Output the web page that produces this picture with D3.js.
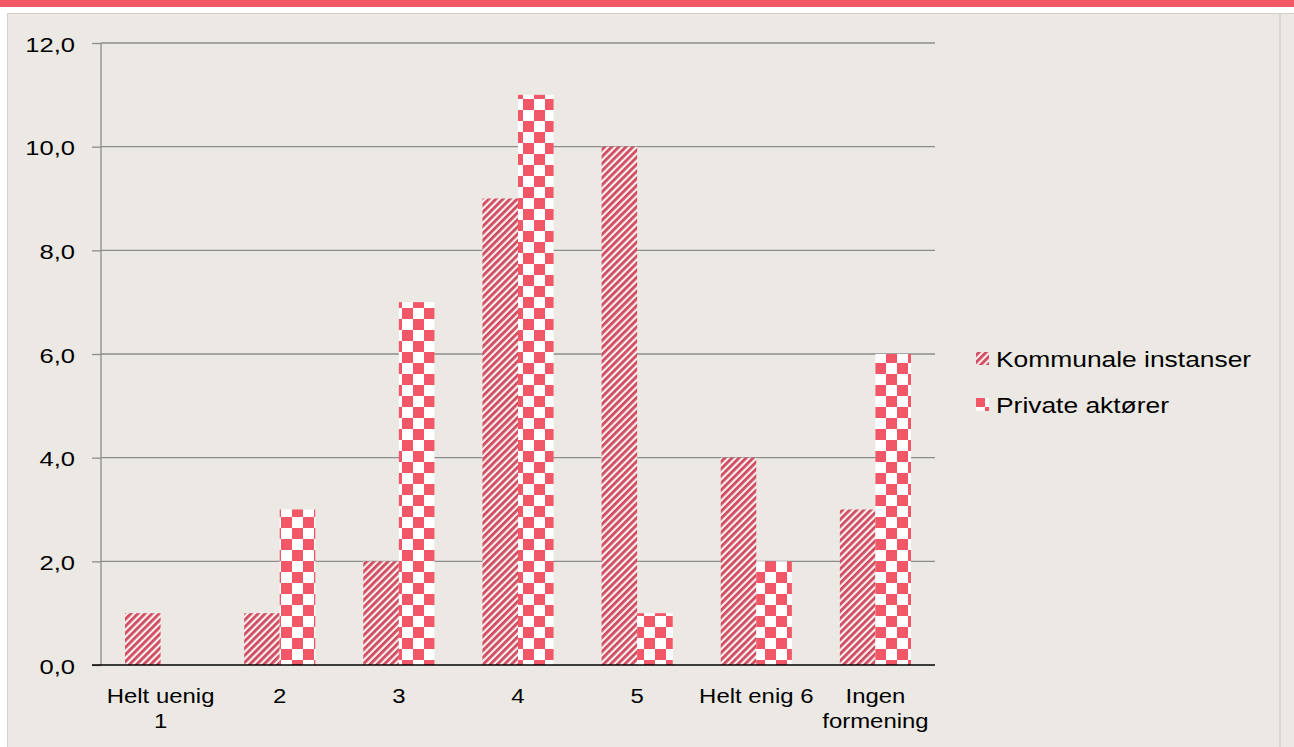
<!DOCTYPE html>
<html>
<head>
<meta charset="utf-8">
<script src="https://cdn.jsdelivr.net/npm/d3@7"></script>
<style>
  html, body { margin: 0; padding: 0; background: #ffffff; }
  svg { display: block; }
  text { font-family: "Liberation Sans", Arial, sans-serif; fill: #000; }
</style>
</head>
<body>
<svg id="chart" width="1294" height="747"></svg>
<script>
// Categories (answer scale) and counts per respondent group
const categories = ["Helt uenig 1", "2", "3", "4", "5", "Helt enig 6", "Ingen formening"];
const categoryLines = [["Helt uenig", "1"], ["2"], ["3"], ["4"], ["5"], ["Helt enig 6"], ["Ingen", "formening"]];
const seriesNames = ["Kommunale instanser", "Private aktører"];
const kommunale = [1, 1, 2, 9, 10, 4, 3];
const private_ = [0, 3, 7, 11, 1, 2, 6];
const yTicks = [0, 2, 4, 6, 8, 10, 12];

const svg = d3.select("#chart");
const W = 1294, H = 747;

// Header band and panel
svg.append("rect").attr("x", 0).attr("y", 0).attr("width", W).attr("height", 7).attr("fill", "#f25767");
svg.append("rect").attr("x", 7.5).attr("y", 13.5).attr("width", W).attr("height", H)
  .attr("fill", "#ece9e4").attr("stroke", "#d3d1cd").attr("stroke-width", 1);
svg.append("rect").attr("x", 1279).attr("y", 14).attr("width", 2).attr("height", H).attr("fill", "#d8d6d2");

// Patterns
const defs = svg.append("defs");
const stripe = defs.append("pattern").attr("id", "stripes").attr("patternUnits", "userSpaceOnUse")
  .attr("width", 5).attr("height", 5).attr("patternTransform", "rotate(45)");
stripe.append("rect").attr("width", 5).attr("height", 5).attr("fill", "#fbeef0");
stripe.append("rect").attr("width", 2.8).attr("height", 5).attr("fill", "#cf4b5d");

const checker = defs.append("pattern").attr("id", "checker").attr("patternUnits", "userSpaceOnUse")
  .attr("width", 22).attr("height", 22).attr("x", 6).attr("y", 0);
checker.append("rect").attr("width", 22).attr("height", 22).attr("fill", "#ffffff");
checker.append("rect").attr("width", 11).attr("height", 11).attr("fill", "#f25767");
checker.append("rect").attr("x", 11).attr("y", 11).attr("width", 11).attr("height", 11).attr("fill", "#f25767");

// Scales
const x0 = d3.scaleBand().domain(categories).range([101, 935]).paddingInner(0).paddingOuter(0);
const x1 = d3.scaleBand().domain(seriesNames).range([24, x0.bandwidth() - 24]).padding(0);
const y = d3.scaleLinear().domain([0, 12]).range([665, 43]);

// Gridlines
svg.append("g").selectAll("line").data(yTicks.filter(d => d > 0)).join("line")
  .attr("x1", 101).attr("x2", 935).attr("y1", d => y(d)).attr("y2", d => y(d))
  .attr("stroke", "#8c8c8c").attr("stroke-width", 1.3);

// Y axis
const fmt = d => d3.format(".1f")(d).replace(".", ",");
const yAxis = d3.axisLeft(y).tickValues(yTicks).tickSize(9).tickFormat(fmt);
const gy = svg.append("g").attr("transform", "translate(101,0)").call(yAxis);
gy.select(".domain").attr("stroke", "#8c8c8c").attr("stroke-width", 1.3).attr("d", "M0,43V665");
gy.selectAll(".tick line").attr("stroke", "#8c8c8c").attr("stroke-width", 1.3);
gy.selectAll(".tick text").remove();
gy.selectAll(".tick").append("text")
  .attr("text-anchor", "end")
  .attr("transform", "translate(-26,8) scale(1.22,1)")
  .style("font-size", "21px")
  .text(fmt);

// Bars
const rows = categories.map((c, i) => ({ c, vals: [kommunale[i], private_[i]] }));
const gBars = svg.append("g");
rows.forEach(r => {
  r.vals.forEach((v, j) => {
    if (v <= 0) return;
    gBars.append("rect")
      .attr("x", x0(r.c) + x1(seriesNames[j]))
      .attr("y", y(v))
      .attr("width", x1.bandwidth())
      .attr("height", y(0) - y(v))
      .attr("fill", j === 0 ? "url(#stripes)" : "url(#checker)");
  });
});

// X axis baseline
svg.append("line").attr("x1", 92).attr("x2", 935).attr("y1", 665).attr("y2", 665)
  .attr("stroke", "#000").attr("stroke-width", 1.5);

// Category labels
const gx = svg.append("g");
categories.forEach((c, i) => {
  const cx = x0(c) + x0.bandwidth() / 2;
  categoryLines[i].forEach((line, k) => {
    gx.append("text")
      .attr("text-anchor", "middle")
      .attr("transform", `translate(${cx},${703 + k * 25}) scale(1.14,1)`)
      .style("font-size", "21px")
      .text(line);
  });
});

// Legend
const legend = svg.append("g");
seriesNames.forEach((s, i) => {
  const ly = 359 + i * 46;
  legend.append("rect").attr("x", 976).attr("y", ly - 7).attr("width", 13).attr("height", 13)
    .attr("fill", i === 0 ? "url(#stripes)" : "url(#checker)");
  legend.append("text")
    .attr("transform", `translate(996,${ly + 8}) scale(1.2,1)`)
    .style("font-size", "22px")
    .text(s);
});
</script>
</body>
</html>
